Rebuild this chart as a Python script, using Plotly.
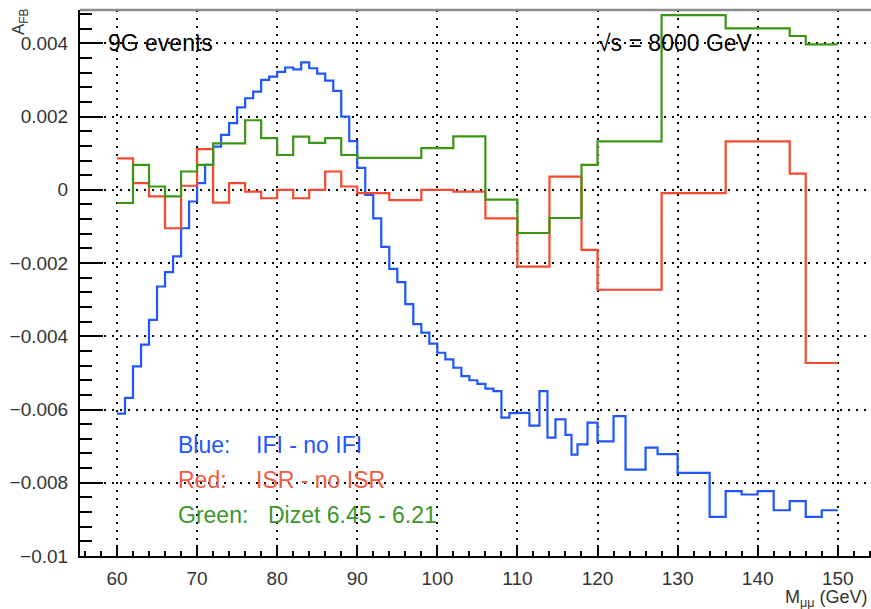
import plotly.graph_objects as go

# Binning and asymmetry values for the three differences
blue_edges = list(range(60, 111)) + [111.5, 112.75, 113.75, 114.75, 116, 116.75, 117.5, 118.75, 120,
                                     122, 123.5, 126, 127.5, 130, 134, 136, 138, 140, 142, 144, 146, 148, 150]
blue_vals = [-0.00611, -0.00568, -0.00482, -0.00423, -0.00355, -0.00264, -0.00225, -0.00182, -0.00105, -0.00032,
             0.00018, 0.00068, 0.00118, 0.00150, 0.00182, 0.00225, 0.00250, 0.00268, 0.00300, 0.00309,
             0.00322, 0.00334, 0.00329, 0.00348, 0.00332, 0.00317, 0.00298, 0.00270, 0.00200, 0.00133,
             0.00060, -0.00014, -0.00078, -0.00156, -0.00216, -0.00252, -0.00312, -0.00367, -0.00390, -0.00420,
             -0.00445, -0.00463, -0.00486, -0.00509, -0.00520, -0.00530, -0.00543, -0.00550, -0.00622, -0.00610,
             -0.00609, -0.00644, -0.00550, -0.00677, -0.00627, -0.00669, -0.00723, -0.00695, -0.00636,
             -0.00687, -0.00618, -0.00764, -0.00704, -0.00722,
             -0.00773, -0.00893, -0.00823, -0.00832, -0.00823, -0.00875, -0.00850, -0.00893, -0.00875]

coarse_edges = [60, 62, 64, 66, 68, 70, 72, 74, 76, 78, 80, 82, 84, 86, 88, 90, 94, 98, 102, 106,
                110, 114, 118, 120, 128, 136, 144, 146, 150]
red_vals = [0.00086, 0.00018, -0.00018, -0.00105, 0.00011, 0.00111, -0.00035, 0.00018, -0.00005, -0.00023,
            0.0, -0.00023, 0.0, 0.00050, 0.00009, -0.00009, -0.00028, 0.0, -0.00005, -0.00078,
            -0.00210, 0.00036, -0.00164, -0.00273, -0.00009, 0.00132, 0.00044, -0.00473]
green_vals = [-0.00036, 0.00068, 0.00009, -0.00018, 0.00050, 0.00068, 0.00127, 0.00127, 0.00190, 0.00141,
              0.00095, 0.00145, 0.00128, 0.00141, 0.00095, 0.00087, 0.00087, 0.00114, 0.00146, -0.00027,
              -0.00118, -0.00077, 0.00068, 0.00132, 0.00477, 0.00441, 0.00420, 0.00397]

x_ticks = [60, 70, 80, 90, 100, 110, 120, 130, 140, 150]
y_ticks = [-0.01, -0.008, -0.006, -0.004, -0.002, 0, 0.002, 0.004]
y_labels = ["\u22120.01", "\u22120.008", "\u22120.006", "\u22120.004", "\u22120.002", "0", "0.002", "0.004"]

BLUE = "#1f56ff"
RED = "#f8472f"
GREEN = "#3a9614"
FONT = "Liberation Sans, Arial, Helvetica, sans-serif"

# plot-area geometry in pixels
W, H = 871, 609
L, R, T, B = 80, 871, 10, 556


def px(xp):
    return (xp - L) / (R - L)


def py(yp):
    return (B - yp) / (B - T)


def step(edges, vals, color):
    return go.Scatter(x=edges, y=vals + [vals[-1]], mode="lines", line_shape="hv",
                      line=dict(color=color, width=2.2), hoverinfo="skip", showlegend=False)


fig = go.Figure()
fig.add_trace(step(blue_edges, blue_vals, BLUE))
fig.add_trace(step(coarse_edges, red_vals, RED))
fig.add_trace(step(coarse_edges, green_vals, GREEN))

axis_common = dict(showline=True, linecolor="black", linewidth=2, ticks="inside", tickcolor="black",
                   tickwidth=1.5, showgrid=True, gridcolor="black", gridwidth=2, griddash="2px,6px",
                   zeroline=False, tickfont=dict(family=FONT, size=19, color="#333"))

fig.update_xaxes(range=[55.38, 154.15], tickmode="array", tickvals=x_ticks, ticklen=11,
                 minor=dict(ticks="inside", tick0=60, dtick=2, ticklen=5, tickcolor="black", tickwidth=1.5,
                            showgrid=False),
                 ticklabelstandoff=4, **axis_common)
fig.update_yaxes(range=[-0.01, 0.00491], tickmode="array", tickvals=y_ticks, ticktext=y_labels, ticklen=23,
                 minor=dict(ticks="inside", tick0=0, dtick=0.0004, ticklen=12, tickcolor="black", tickwidth=1.5,
                            showgrid=False),
                 ticklabelstandoff=6, **axis_common)

txt = dict(showarrow=False, xref="paper", yref="paper", yanchor="middle")
ann = [
    dict(text="9G events", x=px(106), y=py(43), xanchor="left", font=dict(family=FONT, size=23, color="black")),
    dict(text="\u221As = 8000 GeV", x=px(596), y=py(43), xanchor="left",
         font=dict(family=FONT, size=23, color="black")),
    dict(text="Blue:", x=px(176), y=py(445), xanchor="left", font=dict(family=FONT, size=23, color=BLUE)),
    dict(text="IFI - no IFI", x=px(254), y=py(445), xanchor="left", font=dict(family=FONT, size=23, color=BLUE)),
    dict(text="Red:", x=px(176), y=py(480), xanchor="left", font=dict(family=FONT, size=23, color="#f25a45")),
    dict(text="ISR - no ISR", x=px(254), y=py(480), xanchor="left",
         font=dict(family=FONT, size=23, color="#f25a45")),
    dict(text="Green:", x=px(176), y=py(515), xanchor="left", font=dict(family=FONT, size=23, color="#3d962a")),
    dict(text="Dizet 6.45 - 6.21", x=px(266), y=py(515), xanchor="left",
         font=dict(family=FONT, size=23, color="#3d962a")),
    dict(text="M<sub>\u03bc\u03bc</sub> (GeV)", x=px(870), y=py(598), xanchor="right",
         font=dict(family=FONT, size=18, color="#333")),
    dict(text="A<sub>FB</sub>", x=px(20), y=py(22), xanchor="center", textangle=-90,
         font=dict(family=FONT, size=17, color="#333")),
]
for a in ann:
    fig.add_annotation(**{**txt, **a})

# top frame edge
fig.add_shape(type="line", xref="paper", yref="paper", x0=0, x1=1, y0=1, y1=1,
              line=dict(color="#8c8c8c", width=2.5))

fig.update_layout(width=W, height=H, margin=dict(l=L, r=W - R, t=T, b=H - B),
                  paper_bgcolor="white", plot_bgcolor="white", showlegend=False)

fig.write_html("out.html")
